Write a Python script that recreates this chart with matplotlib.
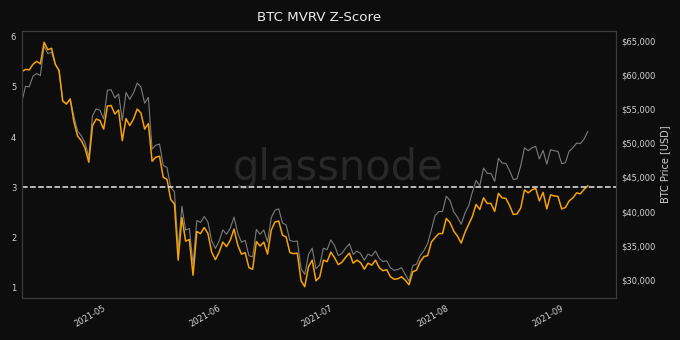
import matplotlib
matplotlib.use("Agg")
import matplotlib.pyplot as plt
import matplotlib.dates as mdates
from matplotlib.ticker import StrMethodFormatter
import pandas as pd

# daily points, 2021-04-08 .. 2021-09-07
dates = pd.date_range("2021-04-08", periods=153, freq="D")

btc_price = [
    56000, 58320, 58250, 59790, 60200, 59890, 64200, 63110, 63310, 61570,
    60680, 56220, 55720, 56470, 53910, 51760, 51090, 50050, 48000, 54020,
    55030, 54820, 53560, 57750, 57830, 56630, 57200, 53330, 57420, 56400,
    57360, 58800, 58230, 55860, 56700, 49150, 49720, 49880, 46760, 46460,
    43540, 42910, 34500, 40780, 37300, 37540, 32300, 38710, 38400, 39290,
    38440, 35700, 34620, 35680, 37330, 36680, 37580, 39190, 36850, 35520,
    35800, 33550, 33380, 37390, 36700, 37310, 35550, 39100, 40220, 40410,
    38350, 38050, 35790, 35620, 35700, 31680, 30800, 33720, 34660, 31640,
    32190, 34650, 34440, 35870, 35040, 33570, 33900, 34670, 35290, 33750,
    34240, 33860, 32880, 33800, 33520, 34240, 33160, 32700, 32820, 31780,
    31420, 31530, 31800, 30820, 29810, 32110, 32310, 33580, 34290, 35350,
    37340, 39410, 40000, 40010, 42240, 41630, 39970, 39200, 38150, 39750,
    40870, 42820, 44560, 43800, 46370, 45590, 45590, 44430, 47790, 47100,
    47050, 46000, 44700, 44800, 46720, 49340, 48910, 49320, 49550, 47710,
    48960, 46940, 49060, 48900, 48810, 46990, 47170, 48850, 49330, 50030,
    49940, 50600, 51700,
]

mvrv_z = [
    5.30, 5.35, 5.34, 5.45, 5.51, 5.46, 5.89, 5.74, 5.77, 5.45,
    5.33, 4.72, 4.66, 4.76, 4.31, 4.02, 3.93, 3.78, 3.50, 4.23,
    4.36, 4.33, 4.16, 4.62, 4.63, 4.46, 4.54, 3.93, 4.37, 4.23,
    4.36, 4.56, 4.48, 4.16, 4.27, 3.52, 3.60, 3.62, 3.20, 3.16,
    2.76, 2.67, 1.55, 2.40, 1.93, 1.96, 1.25, 2.12, 2.08, 2.20,
    2.08, 1.71, 1.56, 1.71, 1.91, 1.82, 1.95, 2.17, 1.85, 1.67,
    1.70, 1.40, 1.37, 1.92, 1.83, 1.91, 1.67, 2.15, 2.31, 2.33,
    2.05, 2.01, 1.70, 1.68, 1.69, 1.14, 1.02, 1.42, 1.55, 1.14,
    1.21, 1.55, 1.52, 1.71, 1.60, 1.46, 1.51, 1.61, 1.69, 1.49,
    1.55, 1.50, 1.37, 1.49, 1.45, 1.55, 1.40, 1.34, 1.36, 1.22,
    1.17, 1.18, 1.22, 1.15, 1.06, 1.32, 1.35, 1.52, 1.62, 1.64,
    1.91, 2.00, 2.08, 2.08, 2.38, 2.30, 2.13, 2.03, 1.89, 2.10,
    2.26, 2.42, 2.66, 2.56, 2.79, 2.68, 2.68, 2.52, 2.88, 2.79,
    2.78, 2.64, 2.46, 2.47, 2.59, 2.95, 2.89, 2.95, 2.98, 2.73,
    2.90, 2.57, 2.85, 2.83, 2.82, 2.57, 2.60, 2.73, 2.79, 2.89,
    2.87, 2.96, 3.03,
]

threshold = 3

bg = "#0d0d0d"
txt = "#d2d2d2"
spine = "#3c3c3c"

fig = plt.figure(figsize=(6.8, 3.4), dpi=100, facecolor=bg)
ax = fig.add_axes([0.032, 0.1226, 0.874, 0.7871])
ax2 = ax.twinx()

ax.set_facecolor(bg)
ax2.plot(dates, btc_price, color="#7c7c7c", lw=0.8)
ax.plot(dates, mvrv_z, color="#f5a207", lw=1.1)
ax.axhline(threshold, color="#e6e6e6", lw=1.1, ls="--")
# z-score drawn above the price line
ax.set_zorder(ax2.get_zorder() + 1)
ax.patch.set_visible(False)
ax2.patch.set_facecolor(bg)

ax.set_ylim(0.79, 6.12)
ax2.set_ylim(27320, 66460)
ax.set_xlim(left=dates[0])

ax.xaxis.set_major_locator(mdates.MonthLocator())
ax.xaxis.set_major_formatter(mdates.DateFormatter("%Y-%m"))
ax2.yaxis.set_major_formatter(StrMethodFormatter("${x:,.0f}"))
ax2.set_yticks(range(30000, 65001, 5000))
ax.set_yticks(range(1, 7))

for a in (ax, ax2):
    a.tick_params(colors=txt, labelsize=6, length=0, pad=4)
    for s in a.spines.values():
        s.set_color(spine)
plt.setp(ax.get_xticklabels(), rotation=30, ha="right")

ax2.set_ylabel("BTC Price [USD]", color=txt, fontsize=7, labelpad=3)
ax.set_title("BTC MVRV Z-Score", color="#ececec", fontsize=9.6, pad=7)

fig.text(0.497, 0.505, "glassnode", color="#282828", fontsize=30,
         ha="center", va="center", zorder=0)

fig.savefig("out.png", dpi=100, facecolor=bg)
